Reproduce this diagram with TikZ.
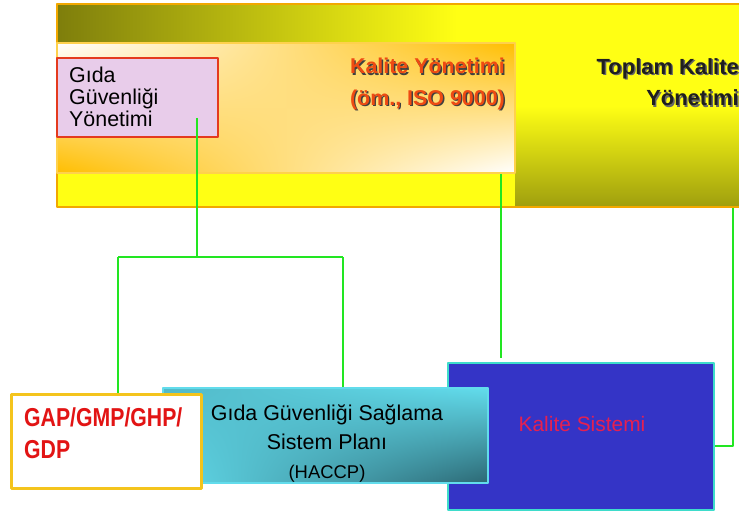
\documentclass[tikz,border=0pt]{standalone}
\usepackage{fontspec}
\usetikzlibrary{shadings}
\setmainfont{Liberation Sans}
\newfontfamily\narrowfont[FakeStretch=0.82]{Liberation Sans}
\definecolor{frameorange}{HTML}{F2A800}
\definecolor{olivedark}{HTML}{7E7E0C}
\definecolor{brightyellow}{HTML}{FFFF14}
\definecolor{kyorange}{HTML}{FFBE00}
\definecolor{ggypink}{HTML}{E8CCEA}
\definecolor{ggyred}{HTML}{E43A1E}
\definecolor{linkgreen}{HTML}{22E622}
\definecolor{gapgold}{HTML}{F4C41C}
\definecolor{gapred}{HTML}{E21414}
\definecolor{haccplight}{HTML}{62DCEC}
\definecolor{haccpdark}{HTML}{2C6874}
\definecolor{ksblue}{HTML}{3434C6}
\definecolor{ksedge}{HTML}{3EDCCB}
\definecolor{kscrimson}{HTML}{E62050}
\definecolor{kytext}{HTML}{EE4A12}
\newcommand{\shadowed}[2]{\makebox[0pt][l]{\hspace{1.4pt}\raisebox{-1.4pt}{\color{#1}#2}}#2}
\begin{document}
\begin{tikzpicture}[x=1bp,y=1bp,line join=bevel,
  box/.style={inner sep=0pt,anchor=center},
  link/.style={draw=linkgreen,line width=2.5bp},
  thinlink/.style={draw=linkgreen,line width=1.2bp}]
\useasboundingbox (0,0) rectangle (739,514);
%% upper block
\node (tky) at (401,408.5) [box,draw=frameorange,line width=2bp,fill=brightyellow,
    minimum width=688bp,minimum height=203bp,
    path picture={
      \shade[top color=brightyellow,bottom color=olivedark!75!brightyellow,middle color=brightyellow]
        ([xshift=458bp]path picture bounding box.south west) rectangle ++(240,175);
      \shade[left color=olivedark,right color=brightyellow,middle color=brightyellow]
        (path picture bounding box.north west) rectangle ++(800,-40);
    }] {};
  \node (ky) at (286,406) [box,draw=kyorange!70!white,line width=2bp,minimum width=458bp,minimum height=130bp,
    upper left=white,upper right=kyorange,lower left=kyorange,lower right=white] {};
  \node (ggy) at (137.5,416.5) [box,draw=ggyred,line width=2.5bp,fill=ggypink,minimum width=161bp,minimum height=79bp] {};
  \node (ggytext) at (69,447) [anchor=north west,align=left,inner sep=0pt,font=\fontsize{21.5}{22}\selectfont] {Gıda\\Güvenliği\\Yönetimi};
  \node (kytext) at (505,456) [anchor=north east,align=right,inner sep=0pt,text=kytext,font=\fontsize{21.5}{32}\selectfont\bfseries]
    {\shadowed{black!75}{Kalite Yönetimi}\\\shadowed{black!75}{(öm., ISO 9000)}};
  \node (tkytext) at (739,456) [anchor=north east,align=right,inner sep=0pt,text=black!88,font=\fontsize{22}{32}\selectfont\bfseries]
    {\shadowed{black!60}{Toplam Kalite}\\\shadowed{black!60}{Yönetimi}};
%% lower block
\node (ks) at (581,77.5) [box,draw=ksedge,line width=2.5bp,fill=ksblue,minimum width=266bp,minimum height=147bp] {};
  \node (kstext) at (582,82) [anchor=base,inner sep=0pt,text=kscrimson,font=\fontsize{21}{24}\selectfont] {Kalite Sistemi};
  \node (haccp) at (325.5,78.5) [box,draw=haccplight,line width=2bp,minimum width=325bp,minimum height=95bp,
    upper left=haccplight!70!haccpdark,upper right=haccplight,lower left=haccplight,lower right=haccpdark] {};
  \node (haccptext) at (327,109) [anchor=north,align=center,inner sep=0pt,font=\fontsize{21.5}{29}\selectfont]
    {Gıda Güvenliği Sağlama\\Sistem Planı\\{\fontsize{18.5}{20}\selectfont (HACCP)}};
  \node (gap) at (106.5,72) [box,draw=gapgold,line width=3bp,fill=white,minimum width=189bp,minimum height=94bp] {};
  \node (gaptext) at (24,106) [anchor=north west,align=left,inner sep=0pt,text=gapred,font=\narrowfont\bfseries\fontsize{26}{32}\selectfont]
    {GAP/GMP/GHP/\\GDP};
%% connectors
\coordinate (ggyfoot) at (197,396);
  \coordinate (split) at (197,257);
  \coordinate (splitl) at (118,257);
  \coordinate (splitr) at (343,257);
  \coordinate (kslink) at (501,156);
  \coordinate (tkylink) at (733,68);
  \draw [link] (ggyfoot) -- (split);
  \draw [link] (splitl) -- (splitr);
  \draw [thinlink] (splitl) -- (splitl |- gap.north);
  \draw [thinlink] (splitr) -- (splitr |- haccp.north);
  \draw [link] (kslink |- ky.south) -- (kslink);
  \draw [link] (tkylink |- tky.south) -- (tkylink) -- (tkylink -| ks.east);
%
\end{tikzpicture}
\end{document}
